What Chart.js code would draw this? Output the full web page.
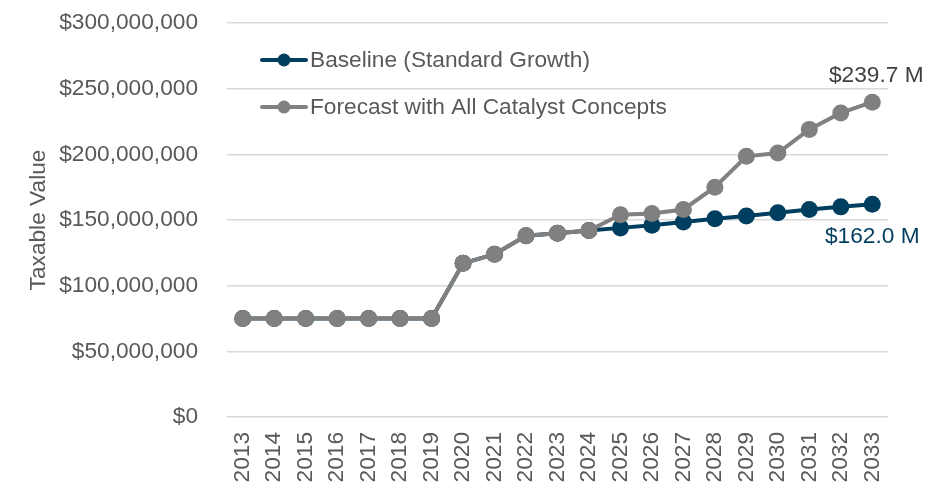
<!DOCTYPE html>
<html>
<head>
<meta charset="utf-8">
<script src="https://cdn.jsdelivr.net/npm/chart.js@4/dist/chart.umd.min.js"></script>
<style>
  html, body { margin: 0; padding: 0; background: #fff; }
  #wrap { width: 930px; height: 483px; }
</style>
</head>
<body>
<div id="wrap"><canvas id="valueChart" width="930" height="483"></canvas></div>
<script>
// Data
const years = ['2013', '2014', '2015', '2016', '2017', '2018', '2019', '2020', '2021', '2022', '2023',
  '2024', '2025', '2026', '2027', '2028', '2029', '2030', '2031', '2032', '2033'];
const baseline = [75, 75, 75, 75, 75, 75, 75, 117, 124, 138, 140,
  142, 144, 146, 148.5, 151, 153, 155.5, 158, 160, 162.0].map(v => v * 1e6);
const forecast = [75, 75, 75, 75, 75, 75, 75, 117, 124, 138, 140,
  142, 154, 155, 158, 175, 198.5, 201, 219, 231.5, 239.7].map(v => v * 1e6);
const seriesNames = ['Baseline (Standard Growth)', 'Forecast with All Catalyst Concepts'];
const endLabels = ['$162.0 M', '$239.7 M'];

const NAVY = '#003E5F';
const GREY = '#808080';
const TEXT = '#595959';
const FONT = "'Liberation Sans', Arial, sans-serif";
const FSIZE = 22.7;

// legend drawn inside the plot, line + dot marker
const legendInside = {
  id: 'legendInside',
  afterDraw(chart) {
    const ctx = chart.ctx;
    const rows = [[seriesNames[0], NAVY, 60], [seriesNames[1], GREY, 107]];
    ctx.save();
    rows.forEach(([label, color, y]) => {
      ctx.strokeStyle = color;
      ctx.lineWidth = 4;
      ctx.lineCap = 'round';
      ctx.beginPath();
      ctx.moveTo(262, y);
      ctx.lineTo(306, y);
      ctx.stroke();
      ctx.fillStyle = color;
      ctx.beginPath();
      ctx.arc(284, y, 6.5, 0, Math.PI * 2);
      ctx.fill();
      ctx.fillStyle = TEXT;
      ctx.font = FSIZE + 'px ' + FONT;
      ctx.textAlign = 'left';
      ctx.textBaseline = 'middle';
      ctx.fillText(label, 310, y + 1);
    });
    ctx.restore();
  }
};

// value labels at the last point of each line
const endValueLabels = {
  id: 'endValueLabels',
  afterDatasetsDraw(chart) {
    const ctx = chart.ctx;
    const last = years.length - 1;
    const pBase = chart.getDatasetMeta(0).data[last];
    const pFore = chart.getDatasetMeta(1).data[last];
    ctx.save();
    ctx.font = FSIZE + 'px ' + FONT;
    ctx.textAlign = 'center';
    ctx.textBaseline = 'middle';
    ctx.fillStyle = '#404040';
    ctx.fillText(endLabels[1], pFore.x + 4, pFore.y - 26);
    ctx.fillStyle = NAVY;
    ctx.fillText(endLabels[0], pBase.x, pBase.y + 33);
    ctx.restore();
  }
};

const ctx = document.getElementById('valueChart').getContext('2d');
const valueChart = new Chart(ctx, {
  type: 'line',
  data: {
    labels: years,
    datasets: [{
      label: seriesNames[0],
      data: baseline,
      borderColor: NAVY,
      backgroundColor: NAVY,
      borderWidth: 4,
      pointRadius: 8.5,
      pointBorderWidth: 0,
      pointBackgroundColor: NAVY,
      order: 1
    }, {
      label: seriesNames[1],
      data: forecast,
      borderColor: GREY,
      backgroundColor: GREY,
      borderWidth: 4,
      pointRadius: 8.5,
      pointBorderWidth: 0,
      pointBackgroundColor: GREY,
      order: 0
    }]
  },
  options: {
    responsive: false,
    animation: false,
    events: [],
    layout: { padding: { top: 23, right: 42, left: 0, bottom: 0 } },
    plugins: {
      legend: { display: false },
      tooltip: { enabled: false }
    },
    scales: {
      x: {
        offset: true,
        grid: { display: false, drawTicks: false },
        border: { display: false },
        ticks: {
          color: TEXT,
          font: { family: FONT, size: FSIZE },
          maxRotation: 90,
          minRotation: 90,
          padding: 15,
          autoSkip: false
        },
        afterFit(scale) { scale.height = 66; }
      },
      y: {
        min: 0,
        max: 300000000,
        grid: { color: '#D9D9D9', lineWidth: 1.5, drawTicks: false },
        border: { display: false },
        ticks: {
          stepSize: 50000000,
          color: TEXT,
          font: { family: FONT, size: FSIZE },
          padding: 29,
          callback: v => '$' + Number(v).toLocaleString('en-US')
        },
        title: {
          display: true,
          text: 'Taxable Value',
          color: TEXT,
          font: { family: FONT, size: FSIZE },
          padding: { top: 25, bottom: 0 }
        },
        afterFit(scale) {
          scale.width = 227;
          // tick padding is horizontal only here, don't let it push the plot down
          scale.paddingTop = 10;
          scale.paddingBottom = 10;
        }
      }
    }
  },
  plugins: [legendInside, endValueLabels]
});
</script>
</body>
</html>
